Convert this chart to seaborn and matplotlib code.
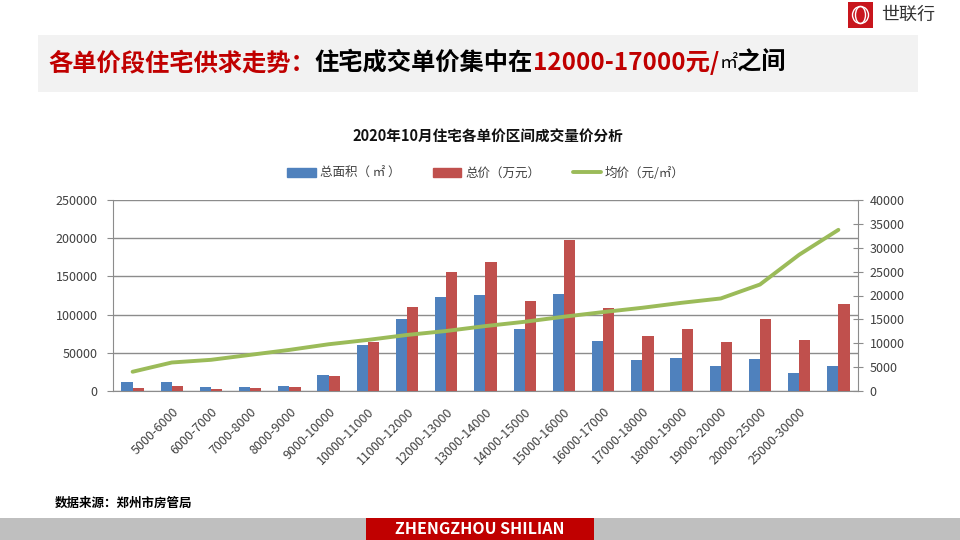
import numpy as np
import pandas as pd
import seaborn as sns
import matplotlib.pyplot as plt
from matplotlib.patches import Rectangle, Ellipse, Patch
from matplotlib.lines import Line2D
from matplotlib.transforms import IdentityTransform

# price bands (first and last bands have no visible label in the source chart)
band_labels = ["", "5000-6000", "6000-7000", "7000-8000", "8000-9000", "9000-10000",
               "10000-11000", "11000-12000", "12000-13000", "13000-14000",
               "14000-15000", "15000-16000", "16000-17000", "17000-18000",
               "18000-19000", "19000-20000", "20000-25000", "25000-30000", ""]
area = [12000, 12000, 5200, 5200, 6500, 20700, 59900, 94800, 122800, 125200,
        80900, 126500, 65600, 40900, 43500, 33000, 42200, 23900, 33000]
total_price = [3900, 6500, 2600, 3900, 5200, 19400, 63800, 110300, 155600, 168700,
               117800, 197400, 108300, 72200, 80900, 64300, 93900, 66500, 113500]
avg_price = [4030, 5970, 6530, 7570, 8610, 9790, 10700, 11740, 12570, 13600,
             14500, 15560, 16530, 17430, 18470, 19380, 22300, 28540, 33750]

s_area = "总面积（ ㎡ ）"
s_total = "总价（万元）"
s_avg = "均价（元/㎡）"

BLUE = "#4f81bd"
RED = "#c0504d"
GREEN = "#9bbb59"
DARKRED = "#c00000"
GRID = "#8c8c8c"
TXT = "#404040"

sns.set_style("white")
plt.rcParams['font.family'] = ['Noto Sans CJK SC', 'DejaVu Sans']

idx = list(range(len(area)))
df = pd.DataFrame({
    "band": idx * 2,
    "value": area + total_price,
    "series": [s_area] * len(area) + [s_total] * len(total_price),
})

fig = plt.figure(figsize=(9.6, 5.4), dpi=100)
ax = fig.add_axes([113 / 960, 1 - 391 / 540, (858 - 113) / 960, (391 - 200) / 540])

sns.barplot(data=df, x="band", y="value", hue="series", palette=[BLUE, RED],
            width=0.57, saturation=1, linewidth=0, legend=False, ax=ax, zorder=3)
ax.set_xlim(-0.5, len(area) - 0.5)
ax.set_ylim(0, 250000)
ax.set_yticks(np.arange(0, 250001, 50000))
ax.yaxis.grid(True, color=GRID, lw=1, zorder=0)
ax.set_axisbelow(True)
ax.set_xlabel("")
ax.set_ylabel("")
ax.set_xticks(idx)
ax.set_xticklabels(band_labels, rotation=45, ha="right", rotation_mode="anchor",
                   fontsize=9, color=TXT)
ax.tick_params(axis="x", length=0, pad=10)
ax.tick_params(axis="y", length=4, color=GRID, labelsize=9, labelcolor=TXT, pad=7)
for side in ["left", "bottom"]:
    ax.spines[side].set_color(GRID)
ax.spines["top"].set_visible(False)
ax.spines["right"].set_visible(False)

ax2 = ax.twinx()
sns.lineplot(x=idx, y=avg_price, color=GREEN, lw=2.8, ax=ax2, zorder=4)
ax2.set_ylim(0, 40000)
ax2.set_yticks(np.arange(0, 40001, 5000))
ax2.tick_params(axis="y", direction="inout", length=7, color=GRID,
                labelsize=9, labelcolor=TXT, pad=5)
ax2.spines["right"].set_color(GRID)
for side in ["left", "top", "bottom"]:
    ax2.spines[side].set_visible(False)
ax2.set_ylabel("")

# chart title and legend
fig.text(488 / 960, 1 - 137 / 540, "2020年10月住宅各单价区间成交量价分析",
         ha="center", va="center", fontsize=10.5, fontweight="bold", color="#111111")
handles = [Patch(color=BLUE, label=s_area), Patch(color=RED, label=s_total),
           Line2D([0], [0], color=GREEN, lw=2.8, label=s_avg)]
fig.legend(handles=handles, loc="center", bbox_to_anchor=(486 / 960, 1 - 173 / 540),
           ncol=3, frameon=False, fontsize=9, handlelength=2.3, handleheight=0.7,
           columnspacing=2.6, handletextpad=0.3, labelcolor=TXT)

# header band
px = IdentityTransform()
fig.patches.append(Rectangle((38, 540 - 92), 880, 57, transform=px,
                             facecolor="#f2f2f2", edgecolor="none", zorder=0))
segs = [("各单价段住宅供求走势：", DARKRED, "heavy"),
        ("住宅成交单价集中在", "black", "heavy"),
        ("12000-17000元/", DARKRED, "heavy"),
        ("㎡", "black", "normal"),
        ("之间", "black", "heavy")]
renderer = fig.canvas.get_renderer()
x = 48
for txt, col, wt in segs:
    t = fig.text(x, 540 - 63, txt, transform=px, color=col, fontweight=wt,
                 fontsize=17.5 if wt != "normal" else 13, va="center", ha="left")
    x = t.get_window_extent(renderer).x1

# logo
fig.patches.append(Rectangle((848, 540 - 28), 25, 26, transform=px,
                             facecolor="#c8161d", edgecolor="none"))
for w in (16, 10):
    fig.patches.append(Ellipse((860.5, 540 - 15), w, 17, transform=px,
                               facecolor="none", edgecolor="white", lw=1))
fig.text(881, 540 - 15, "世联行", transform=px, fontsize=13, color="#333333",
         va="center", ha="left")

# footer
fig.text(55 / 960, 1 - 503 / 540, "数据来源：郑州市房管局", fontsize=9,
         fontweight="bold", color="black", va="center")
fig.patches.append(Rectangle((0, 0), 960, 22, transform=px,
                             facecolor="#bfbfbf", edgecolor="none"))
fig.patches.append(Rectangle((366, 0), 228, 22, transform=px,
                             facecolor=DARKRED, edgecolor="none"))
fig.text(480, 11, "ZHENGZHOU SHILIAN", transform=px, fontsize=11.5,
         fontweight="bold", color="white", ha="center", va="center")

fig.savefig("out.png", dpi=100)
